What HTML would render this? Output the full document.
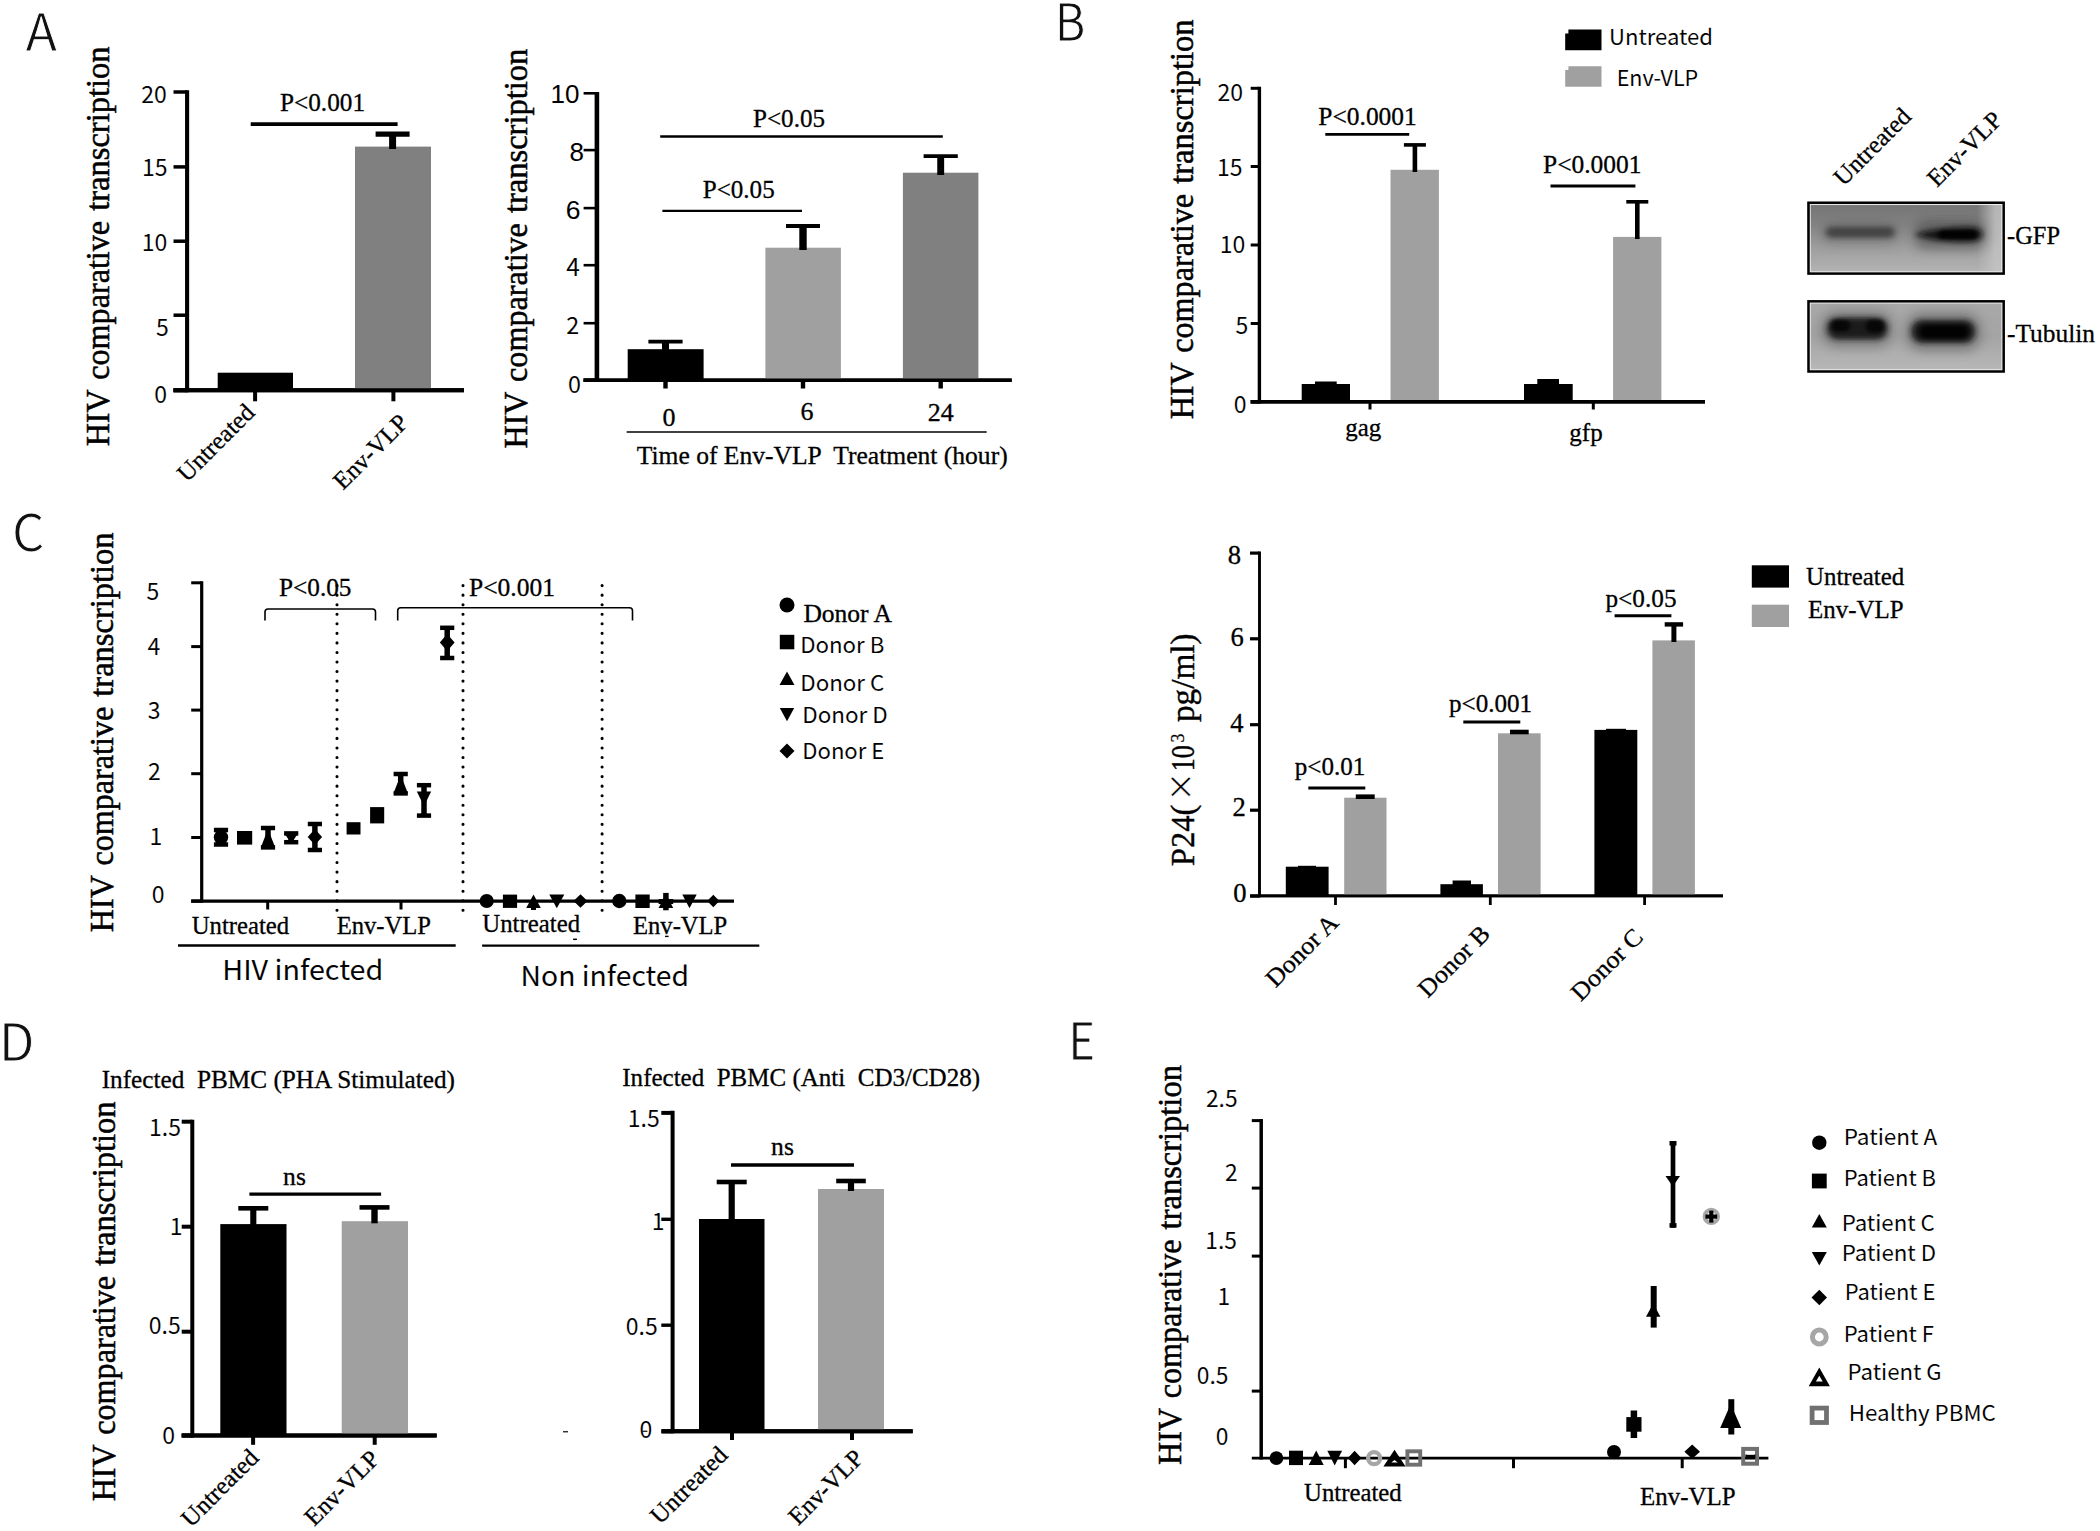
<!DOCTYPE html>
<html lang="en"><head><meta charset="utf-8"><title>Figure</title>
<style>html,body{margin:0;padding:0;background:#fff}svg{display:block}text{white-space:pre}</style></head>
<body>
<svg width="2100" height="1531" viewBox="0 0 2100 1531">
<defs>
<filter id="b3" x="-30%" y="-80%" width="160%" height="260%"><feGaussianBlur stdDeviation="3 2.4"/></filter>
<filter id="b2" x="-30%" y="-80%" width="160%" height="260%"><feGaussianBlur stdDeviation="2.2 1.6"/></filter>
<filter id="b5" x="-40%" y="-100%" width="180%" height="300%"><feGaussianBlur stdDeviation="6 5"/></filter>
<linearGradient id="g1" x1="0" y1="0" x2="0" y2="1"><stop offset="0" stop-color="#727272"/><stop offset="0.3" stop-color="#828282"/><stop offset="0.6" stop-color="#9c9c9c"/><stop offset="1" stop-color="#b6b6b6"/></linearGradient>
<linearGradient id="g2" x1="0" y1="0" x2="0" y2="1"><stop offset="0" stop-color="#a9a9a9"/><stop offset="0.5" stop-color="#a4a4a4"/><stop offset="1" stop-color="#b9b9b9"/></linearGradient>
<linearGradient id="gc" x1="0" y1="0" x2="1" y2="0"><stop offset="0" stop-color="#c4c4c4" stop-opacity="0"/><stop offset="0.86" stop-color="#c4c4c4" stop-opacity="0"/><stop offset="0.95" stop-color="#c4c4c4" stop-opacity="0.8"/><stop offset="1" stop-color="#c4c4c4" stop-opacity="0.85"/></linearGradient>
<clipPath id="c1"><rect x="1809" y="203" width="194.5" height="70.5"/></clipPath>
<clipPath id="c2"><rect x="1809" y="301.5" width="194.5" height="70"/></clipPath>
</defs>
<rect width="2100" height="1531" fill="#fff"/>
<text x="25.6" y="51.2" font-size="52" font-family='"Noto Sans CJK SC", "Liberation Sans", "DejaVu Sans", sans-serif' fill="#111" stroke="#fff" stroke-width="0.9">A</text>
<text x="1054.8" y="41.4" font-size="52" font-family='"Noto Sans CJK SC", "Liberation Sans", "DejaVu Sans", sans-serif' fill="#111" textLength="30.6" lengthAdjust="spacingAndGlyphs" stroke="#fff" stroke-width="0.9">B</text>
<text x="12.0" y="551.4" font-size="51" font-family='"Noto Sans CJK SC", "Liberation Sans", "DejaVu Sans", sans-serif' fill="#111" stroke="#fff" stroke-width="0.9">C</text>
<text x="-1.3" y="1060.6" font-size="52" font-family='"Noto Sans CJK SC", "Liberation Sans", "DejaVu Sans", sans-serif' fill="#111" stroke="#fff" stroke-width="0.9">D</text>
<text x="1068.2" y="1059.8" font-size="52" font-family='"Noto Sans CJK SC", "Liberation Sans", "DejaVu Sans", sans-serif' fill="#111" textLength="27.0" lengthAdjust="spacingAndGlyphs" stroke="#fff" stroke-width="0.9">E</text>
<line x1="187.1" y1="90.3" x2="187.1" y2="392.3" stroke="#000" stroke-width="4.1" stroke-linecap="butt" />
<line x1="173.5" y1="390.3" x2="464.0" y2="390.3" stroke="#000" stroke-width="4" stroke-linecap="butt" />
<line x1="173.5" y1="92.0" x2="187.1" y2="92.0" stroke="#000" stroke-width="3.5" stroke-linecap="butt" />
<text x="166.8" y="102.9" font-size="23" font-family='"Noto Sans CJK SC", "Liberation Sans", "DejaVu Sans", sans-serif' fill="#000" text-anchor="end" stroke="#fff" stroke-width="0.08" >20</text>
<line x1="173.5" y1="166.9" x2="187.1" y2="166.9" stroke="#000" stroke-width="3.5" stroke-linecap="butt" />
<text x="167.6" y="175.8" font-size="23" font-family='"Noto Sans CJK SC", "Liberation Sans", "DejaVu Sans", sans-serif' fill="#000" text-anchor="end" stroke="#fff" stroke-width="0.08" >15</text>
<line x1="173.5" y1="241.2" x2="187.1" y2="241.2" stroke="#000" stroke-width="3.5" stroke-linecap="butt" />
<text x="167.4" y="251.2" font-size="23" font-family='"Noto Sans CJK SC", "Liberation Sans", "DejaVu Sans", sans-serif' fill="#000" text-anchor="end" stroke="#fff" stroke-width="0.08" >10</text>
<line x1="173.5" y1="315.2" x2="187.1" y2="315.2" stroke="#000" stroke-width="3.5" stroke-linecap="butt" />
<text x="168.7" y="335.7" font-size="23" font-family='"Noto Sans CJK SC", "Liberation Sans", "DejaVu Sans", sans-serif' fill="#000" text-anchor="end" stroke="#fff" stroke-width="0.08" >5</text>
<line x1="173.5" y1="390.3" x2="187.1" y2="390.3" stroke="#000" stroke-width="4" stroke-linecap="butt" />
<text x="167.0" y="403.0" font-size="23" font-family='"Noto Sans CJK SC", "Liberation Sans", "DejaVu Sans", sans-serif' fill="#000" text-anchor="end" stroke="#fff" stroke-width="0.08" >0</text>
<rect x="217.7" y="372.7" width="75.3" height="17.6" fill="#000" />
<rect x="355.0" y="146.6" width="76.0" height="243.7" fill="#808080" />
<line x1="173.5" y1="390.3" x2="464.0" y2="390.3" stroke="#000" stroke-width="4" stroke-linecap="butt" />
<line x1="392.6" y1="134.1" x2="392.6" y2="149.0" stroke="#000" stroke-width="7" stroke-linecap="butt" />
<line x1="375.6" y1="134.1" x2="409.6" y2="134.1" stroke="#000" stroke-width="5.2" stroke-linecap="butt" />
<line x1="250.7" y1="124.1" x2="397.6" y2="124.1" stroke="#000" stroke-width="3.6" stroke-linecap="butt" />
<text x="280.0" y="110.8" font-size="25.3" font-family='"Liberation Serif", "DejaVu Serif", serif' fill="#000" textLength="85.0" lengthAdjust="spacingAndGlyphs" stroke="#000" stroke-width="0.30" >P&lt;0.001</text>
<line x1="255.1" y1="390.3" x2="255.1" y2="401.3" stroke="#000" stroke-width="4" stroke-linecap="butt" />
<line x1="393.4" y1="390.3" x2="393.4" y2="401.3" stroke="#000" stroke-width="4" stroke-linecap="butt" />
<text x="256.0" y="414.0" font-size="24.7" font-family='"Liberation Serif", "DejaVu Serif", serif' fill="#000" text-anchor="end" textLength="97.5" lengthAdjust="spacingAndGlyphs" transform="rotate(-45 256.0 414.0)" stroke="#000" stroke-width="0.30" >Untreated</text>
<text x="409.8" y="424.2" font-size="24.7" font-family='"Liberation Serif", "DejaVu Serif", serif' fill="#000" text-anchor="end" textLength="94.3" lengthAdjust="spacingAndGlyphs" transform="rotate(-45 409.8 424.2)" stroke="#000" stroke-width="0.30" >Env-VLP</text>
<g transform="translate(108.9 446.3) rotate(-90)" font-size="33" font-family='"Liberation Serif", "DejaVu Serif", serif' fill="#000" stroke="#000" stroke-width="0.5">
<text x="0.0" y="0" textLength="57.0" lengthAdjust="spacingAndGlyphs">HIV</text>
<text x="66.6" y="0" textLength="158.8" lengthAdjust="spacingAndGlyphs">comparative</text>
<text x="235.5" y="0" textLength="164.3" lengthAdjust="spacingAndGlyphs">transcription</text>
</g>
<line x1="596.9" y1="91.9" x2="596.9" y2="382.0" stroke="#000" stroke-width="4.6" stroke-linecap="butt" />
<line x1="583.6" y1="380.2" x2="1011.7" y2="380.2" stroke="#000" stroke-width="3.6" stroke-linecap="butt" />
<line x1="583.6" y1="93.3" x2="596.9" y2="93.3" stroke="#000" stroke-width="2.6" stroke-linecap="butt" />
<text x="579.5" y="103.3" font-size="26" font-family='"Liberation Sans", "DejaVu Sans", sans-serif' fill="#000" text-anchor="end" >10</text>
<line x1="583.6" y1="150.1" x2="596.9" y2="150.1" stroke="#000" stroke-width="2.6" stroke-linecap="butt" />
<text x="584.0" y="161.2" font-size="26" font-family='"Liberation Sans", "DejaVu Sans", sans-serif' fill="#000" text-anchor="end" >8</text>
<line x1="583.6" y1="208.1" x2="596.9" y2="208.1" stroke="#000" stroke-width="2.6" stroke-linecap="butt" />
<text x="580.6" y="219.2" font-size="26.5" font-family='"Liberation Sans", "DejaVu Sans", sans-serif' fill="#000" text-anchor="end" >6</text>
<line x1="583.6" y1="265.2" x2="596.9" y2="265.2" stroke="#000" stroke-width="2.6" stroke-linecap="butt" />
<text x="579.8" y="276.0" font-size="24.5" font-family='"Noto Sans CJK SC", "Liberation Sans", "DejaVu Sans", sans-serif' fill="#000" text-anchor="end" stroke="#fff" stroke-width="0.08" >4</text>
<line x1="583.6" y1="323.2" x2="596.9" y2="323.2" stroke="#000" stroke-width="2.6" stroke-linecap="butt" />
<text x="579.2" y="333.8" font-size="23.3" font-family='"Noto Sans CJK SC", "Liberation Sans", "DejaVu Sans", sans-serif' fill="#000" text-anchor="end" stroke="#fff" stroke-width="0.08" >2</text>
<line x1="583.6" y1="380.2" x2="596.9" y2="380.2" stroke="#000" stroke-width="3.6" stroke-linecap="butt" />
<text x="581.0" y="392.8" font-size="23.3" font-family='"Noto Sans CJK SC", "Liberation Sans", "DejaVu Sans", sans-serif' fill="#000" text-anchor="end" stroke="#fff" stroke-width="0.08" >0</text>
<rect x="627.7" y="349.2" width="75.9" height="31.0" fill="#000" />
<rect x="765.4" y="247.7" width="75.5" height="132.5" fill="#a0a0a0" />
<rect x="902.9" y="172.7" width="75.5" height="207.5" fill="#808080" />
<line x1="583.6" y1="380.2" x2="1011.7" y2="380.2" stroke="#000" stroke-width="3.6" stroke-linecap="butt" />
<line x1="665.5" y1="341.7" x2="665.5" y2="352.0" stroke="#000" stroke-width="7" stroke-linecap="butt" />
<line x1="648.4" y1="341.7" x2="682.6" y2="341.7" stroke="#000" stroke-width="3.8" stroke-linecap="butt" />
<line x1="803.0" y1="225.9" x2="803.0" y2="250.0" stroke="#000" stroke-width="7.4" stroke-linecap="butt" />
<line x1="786.0" y1="225.9" x2="820.0" y2="225.9" stroke="#000" stroke-width="4" stroke-linecap="butt" />
<line x1="940.7" y1="156.1" x2="940.7" y2="175.0" stroke="#000" stroke-width="6.9" stroke-linecap="butt" />
<line x1="923.6" y1="156.1" x2="957.8" y2="156.1" stroke="#000" stroke-width="3.8" stroke-linecap="butt" />
<line x1="660.2" y1="136.5" x2="942.8" y2="136.5" stroke="#000" stroke-width="2.4" stroke-linecap="butt" />
<line x1="662.4" y1="210.9" x2="802.0" y2="210.9" stroke="#000" stroke-width="2.4" stroke-linecap="butt" />
<text x="753.0" y="126.7" font-size="25.3" font-family='"Liberation Serif", "DejaVu Serif", serif' fill="#000" textLength="72.0" lengthAdjust="spacingAndGlyphs" stroke="#000" stroke-width="0.30" >P&lt;0.05</text>
<text x="702.7" y="198.0" font-size="25.3" font-family='"Liberation Serif", "DejaVu Serif", serif' fill="#000" textLength="72.0" lengthAdjust="spacingAndGlyphs" stroke="#000" stroke-width="0.30" >P&lt;0.05</text>
<line x1="665.5" y1="380.2" x2="665.5" y2="388.5" stroke="#000" stroke-width="4.4" stroke-linecap="butt" />
<line x1="803.0" y1="380.2" x2="803.0" y2="388.5" stroke="#000" stroke-width="4.4" stroke-linecap="butt" />
<line x1="940.7" y1="380.2" x2="940.7" y2="388.5" stroke="#000" stroke-width="4.4" stroke-linecap="butt" />
<text x="669.0" y="426.3" font-size="26" font-family='"Liberation Serif", "DejaVu Serif", serif' fill="#000" text-anchor="middle" stroke="#000" stroke-width="0.31" >0</text>
<text x="807.0" y="420.0" font-size="26" font-family='"Liberation Serif", "DejaVu Serif", serif' fill="#000" text-anchor="middle" stroke="#000" stroke-width="0.31" >6</text>
<text x="940.7" y="421.0" font-size="26" font-family='"Liberation Serif", "DejaVu Serif", serif' fill="#000" text-anchor="middle" stroke="#000" stroke-width="0.31" >24</text>
<line x1="626.7" y1="432.0" x2="986.7" y2="432.0" stroke="#000" stroke-width="1.6" stroke-linecap="butt" />
<text x="636.7" y="463.7" font-size="25.7" font-family='"Liberation Serif", "DejaVu Serif", serif' fill="#000" textLength="371.0" lengthAdjust="spacingAndGlyphs" stroke="#000" stroke-width="0.31" xml:space="preserve">Time of Env-VLP  Treatment (hour)</text>
<g transform="translate(527.1 448.5) rotate(-90)" font-size="33" font-family='"Liberation Serif", "DejaVu Serif", serif' fill="#000" stroke="#000" stroke-width="0.5">
<text x="0.0" y="0" textLength="57.0" lengthAdjust="spacingAndGlyphs">HIV</text>
<text x="66.6" y="0" textLength="158.8" lengthAdjust="spacingAndGlyphs">comparative</text>
<text x="235.5" y="0" textLength="164.3" lengthAdjust="spacingAndGlyphs">transcription</text>
</g>
<line x1="1259.4" y1="86.8" x2="1259.4" y2="403.5" stroke="#000" stroke-width="3.4" stroke-linecap="butt" />
<line x1="1250.7" y1="401.8" x2="1705.0" y2="401.8" stroke="#000" stroke-width="3.5" stroke-linecap="butt" />
<line x1="1250.7" y1="88.3" x2="1259.4" y2="88.3" stroke="#000" stroke-width="3" stroke-linecap="butt" />
<text x="1243.0" y="100.9" font-size="23" font-family='"Noto Sans CJK SC", "Liberation Sans", "DejaVu Sans", sans-serif' fill="#000" text-anchor="end" stroke="#fff" stroke-width="0.08" >20</text>
<line x1="1250.7" y1="166.5" x2="1259.4" y2="166.5" stroke="#000" stroke-width="3" stroke-linecap="butt" />
<text x="1242.5" y="176.4" font-size="23" font-family='"Noto Sans CJK SC", "Liberation Sans", "DejaVu Sans", sans-serif' fill="#000" text-anchor="end" stroke="#fff" stroke-width="0.08" >15</text>
<line x1="1250.7" y1="245.0" x2="1259.4" y2="245.0" stroke="#000" stroke-width="3" stroke-linecap="butt" />
<text x="1245.3" y="253.0" font-size="23" font-family='"Noto Sans CJK SC", "Liberation Sans", "DejaVu Sans", sans-serif' fill="#000" text-anchor="end" stroke="#fff" stroke-width="0.08" >10</text>
<line x1="1250.7" y1="323.5" x2="1259.4" y2="323.5" stroke="#000" stroke-width="3" stroke-linecap="butt" />
<text x="1248.2" y="334.2" font-size="23" font-family='"Noto Sans CJK SC", "Liberation Sans", "DejaVu Sans", sans-serif' fill="#000" text-anchor="end" stroke="#fff" stroke-width="0.08" >5</text>
<line x1="1250.7" y1="401.8" x2="1259.4" y2="401.8" stroke="#000" stroke-width="3.5" stroke-linecap="butt" />
<text x="1246.5" y="413.3" font-size="23" font-family='"Noto Sans CJK SC", "Liberation Sans", "DejaVu Sans", sans-serif' fill="#000" text-anchor="end" stroke="#fff" stroke-width="0.08" >0</text>
<rect x="1301.7" y="384.0" width="48.3" height="17.8" fill="#000" />
<rect x="1315.0" y="381.5" width="21.7" height="3.5" fill="#000" />
<rect x="1390.5" y="169.8" width="48.4" height="232.0" fill="#a0a0a0" />
<rect x="1524.0" y="384.0" width="48.7" height="17.8" fill="#000" />
<rect x="1537.3" y="379.0" width="21.7" height="6.0" fill="#000" />
<rect x="1613.1" y="236.9" width="48.3" height="164.9" fill="#a0a0a0" />
<line x1="1250.7" y1="401.8" x2="1705.0" y2="401.8" stroke="#000" stroke-width="3.5" stroke-linecap="butt" />
<line x1="1414.9" y1="144.9" x2="1414.9" y2="172.0" stroke="#000" stroke-width="4.6" stroke-linecap="butt" />
<line x1="1403.9" y1="144.9" x2="1425.9" y2="144.9" stroke="#000" stroke-width="3.6" stroke-linecap="butt" />
<line x1="1637.3" y1="201.8" x2="1637.3" y2="239.0" stroke="#000" stroke-width="4.6" stroke-linecap="butt" />
<line x1="1626.3" y1="201.8" x2="1648.3" y2="201.8" stroke="#000" stroke-width="3.6" stroke-linecap="butt" />
<line x1="1325.3" y1="134.4" x2="1409.2" y2="134.4" stroke="#000" stroke-width="2.8" stroke-linecap="butt" />
<line x1="1550.5" y1="186.0" x2="1635.4" y2="186.0" stroke="#000" stroke-width="2.8" stroke-linecap="butt" />
<text x="1318.3" y="124.5" font-size="25.6" font-family='"Liberation Serif", "DejaVu Serif", serif' fill="#000" textLength="98.5" lengthAdjust="spacingAndGlyphs" stroke="#000" stroke-width="0.31" >P&lt;0.0001</text>
<text x="1543.0" y="173.4" font-size="25.6" font-family='"Liberation Serif", "DejaVu Serif", serif' fill="#000" textLength="98.5" lengthAdjust="spacingAndGlyphs" stroke="#000" stroke-width="0.31" >P&lt;0.0001</text>
<line x1="1370.0" y1="401.8" x2="1370.0" y2="409.5" stroke="#000" stroke-width="3" stroke-linecap="butt" />
<line x1="1593.3" y1="401.8" x2="1593.3" y2="409.5" stroke="#000" stroke-width="3" stroke-linecap="butt" />
<text x="1363.3" y="436.0" font-size="25" font-family='"Liberation Serif", "DejaVu Serif", serif' fill="#000" text-anchor="middle" stroke="#000" stroke-width="0.30" >gag</text>
<text x="1586.0" y="440.7" font-size="25" font-family='"Liberation Serif", "DejaVu Serif", serif' fill="#000" text-anchor="middle" stroke="#000" stroke-width="0.30" >gfp</text>
<path d="M1568.4,29.6 H1601.5 V50.2 H1565.2 V33.4 H1568.4 Z" fill="#000"/>
<path d="M1568.4,66.3 H1601.5 V86.7 H1565.2 V69.9 H1568.4 Z" fill="#a0a0a0"/>
<text x="1609.0" y="45.0" font-size="22" font-family='"Noto Sans CJK SC", "Liberation Sans", "DejaVu Sans", sans-serif' fill="#000" textLength="104.0" lengthAdjust="spacingAndGlyphs" stroke="#fff" stroke-width="0.08" >Untreated</text>
<text x="1616.7" y="86.0" font-size="22" font-family='"Noto Sans CJK SC", "Liberation Sans", "DejaVu Sans", sans-serif' fill="#000" textLength="81.5" lengthAdjust="spacingAndGlyphs" stroke="#fff" stroke-width="0.08" >Env-VLP</text>
<g transform="translate(1192.8 419.3) rotate(-90)" font-size="33" font-family='"Liberation Serif", "DejaVu Serif", serif' fill="#000" stroke="#000" stroke-width="0.5">
<text x="0.0" y="0" textLength="57.0" lengthAdjust="spacingAndGlyphs">HIV</text>
<text x="66.6" y="0" textLength="158.8" lengthAdjust="spacingAndGlyphs">comparative</text>
<text x="235.5" y="0" textLength="164.3" lengthAdjust="spacingAndGlyphs">transcription</text>
</g>
<rect x="1807.3" y="201.6" width="197.6" height="73.2" fill="url(#g1)" />
<rect x="1807.3" y="201.6" width="197.6" height="73.2" fill="url(#gc)" />
<g clip-path="url(#c1)">
<rect x="1822" y="221" width="76.0" height="24.0" rx="10" ry="10" fill="#555" opacity="0.3" filter="url(#b5)"/>
<rect x="1914" y="220" width="72.0" height="30.0" rx="12" ry="12" fill="#333" opacity="0.42" filter="url(#b5)"/>
<rect x="1826" y="226.8" width="68.5" height="11.0" rx="5" ry="5" fill="#363636" opacity="0.78" filter="url(#b3)"/>
<path d="M1915,234.5 C1925,230.5 1945,227.5 1968,227 C1979,227 1982,230.5 1982,234.5 C1982,239 1978,242 1966,242 C1945,242 1925,239.5 1915,234.5 Z" fill="#0c0c0c" opacity="0.92" filter="url(#b3)"/>
<rect x="1938" y="230.3" width="39.0" height="8.5" rx="4.2" ry="4.2" fill="#000" opacity="0.9" filter="url(#b2)"/>
</g>
<rect x="1810.2" y="204.5" width="191.8" height="67.4" fill="none" stroke="#f4f4f4" stroke-width="1.1" opacity="0.9"/>
<rect x="1808.5" y="202.8" width="195.2" height="70.8" fill="none" stroke="#000" stroke-width="2.4"/>
<rect x="1807.3" y="300.1" width="197.6" height="72.6" fill="url(#g2)" />
<g clip-path="url(#c2)">
<rect x="1821" y="310" width="72.0" height="38.0" rx="16" ry="16" fill="#444" opacity="0.36" filter="url(#b5)"/>
<rect x="1906" y="312" width="75.0" height="40.0" rx="16" ry="16" fill="#444" opacity="0.4" filter="url(#b5)"/>
<rect x="1827" y="317.5" width="60.5" height="22.0" rx="10.5" ry="10.5" fill="#1d1d1d" opacity="1" filter="url(#b3)"/>
<rect x="1831" y="320" width="19.0" height="11.5" rx="5" ry="5" fill="#000" opacity="0.75" filter="url(#b2)"/>
<rect x="1866" y="320" width="18.0" height="12.5" rx="5" ry="5" fill="#000" opacity="0.75" filter="url(#b2)"/>
<rect x="1911.5" y="320" width="63.5" height="23.0" rx="11" ry="11" fill="#141414" opacity="1" filter="url(#b3)"/>
<rect x="1920" y="325.5" width="48.0" height="12.5" rx="6" ry="6" fill="#000" opacity="0.9" filter="url(#b2)"/>
</g>
<rect x="1810.2" y="303.0" width="191.8" height="66.8" fill="none" stroke="#f4f4f4" stroke-width="1.1" opacity="0.9"/>
<rect x="1808.5" y="301.3" width="195.2" height="70.2" fill="none" stroke="#000" stroke-width="2.4"/>
<text x="2007.0" y="244.0" font-size="24.5" font-family='"Liberation Serif", "DejaVu Serif", serif' fill="#000" textLength="53.0" lengthAdjust="spacingAndGlyphs" stroke="#000" stroke-width="0.29" >-GFP</text>
<text x="2007.0" y="341.7" font-size="24.5" font-family='"Liberation Serif", "DejaVu Serif", serif' fill="#000" textLength="88.0" lengthAdjust="spacingAndGlyphs" stroke="#000" stroke-width="0.29" >-Tubulin</text>
<text x="1843.5" y="187.0" font-size="24.7" font-family='"Liberation Serif", "DejaVu Serif", serif' fill="#000" textLength="97.5" lengthAdjust="spacingAndGlyphs" transform="rotate(-45 1843.5 187.0)" stroke="#000" stroke-width="0.30" >Untreated</text>
<text x="1937.0" y="188.0" font-size="24.7" font-family='"Liberation Serif", "DejaVu Serif", serif' fill="#000" textLength="94.3" lengthAdjust="spacingAndGlyphs" transform="rotate(-45 1937.0 188.0)" stroke="#000" stroke-width="0.30" >Env-VLP</text>
<line x1="201.7" y1="581.3" x2="201.7" y2="902.7" stroke="#000" stroke-width="3.2" stroke-linecap="butt" />
<line x1="191.2" y1="901.1" x2="734.0" y2="901.1" stroke="#000" stroke-width="3.3" stroke-linecap="butt" />
<line x1="191.2" y1="582.8" x2="201.7" y2="582.8" stroke="#000" stroke-width="3" stroke-linecap="butt" />
<text x="153.0" y="599.7" font-size="23" font-family='"Noto Sans CJK SC", "Liberation Sans", "DejaVu Sans", sans-serif' fill="#000" text-anchor="middle" stroke="#fff" stroke-width="0.08" >5</text>
<line x1="191.2" y1="646.6" x2="201.7" y2="646.6" stroke="#000" stroke-width="3" stroke-linecap="butt" />
<text x="153.9" y="655.3" font-size="23" font-family='"Noto Sans CJK SC", "Liberation Sans", "DejaVu Sans", sans-serif' fill="#000" text-anchor="middle" stroke="#fff" stroke-width="0.08" >4</text>
<line x1="191.2" y1="710.1" x2="201.7" y2="710.1" stroke="#000" stroke-width="3" stroke-linecap="butt" />
<text x="154.2" y="718.6" font-size="23" font-family='"Noto Sans CJK SC", "Liberation Sans", "DejaVu Sans", sans-serif' fill="#000" text-anchor="middle" stroke="#fff" stroke-width="0.08" >3</text>
<line x1="191.2" y1="773.7" x2="201.7" y2="773.7" stroke="#000" stroke-width="3" stroke-linecap="butt" />
<text x="154.4" y="779.9" font-size="23" font-family='"Noto Sans CJK SC", "Liberation Sans", "DejaVu Sans", sans-serif' fill="#000" text-anchor="middle" stroke="#fff" stroke-width="0.08" >2</text>
<line x1="191.2" y1="837.5" x2="201.7" y2="837.5" stroke="#000" stroke-width="3" stroke-linecap="butt" />
<text x="155.9" y="845.0" font-size="23" font-family='"Noto Sans CJK SC", "Liberation Sans", "DejaVu Sans", sans-serif' fill="#000" text-anchor="middle" stroke="#fff" stroke-width="0.08" >1</text>
<line x1="191.2" y1="901.1" x2="201.7" y2="901.1" stroke="#000" stroke-width="3.3" stroke-linecap="butt" />
<text x="158.1" y="903.1" font-size="23" font-family='"Noto Sans CJK SC", "Liberation Sans", "DejaVu Sans", sans-serif' fill="#000" text-anchor="middle" stroke="#fff" stroke-width="0.08" >0</text>
<line x1="267.7" y1="901.1" x2="267.7" y2="909.5" stroke="#000" stroke-width="3" stroke-linecap="butt" />
<line x1="401.0" y1="901.1" x2="401.0" y2="909.5" stroke="#000" stroke-width="3" stroke-linecap="butt" />
<line x1="337" y1="585.6" x2="337" y2="910.4" stroke="#000" stroke-width="3.1" stroke-linecap="round" stroke-dasharray="0 9.55"/>
<line x1="463" y1="585.6" x2="463" y2="910.4" stroke="#000" stroke-width="3.1" stroke-linecap="round" stroke-dasharray="0 9.55"/>
<line x1="602.1" y1="585.6" x2="602.1" y2="910.4" stroke="#000" stroke-width="3.1" stroke-linecap="round" stroke-dasharray="0 9.55"/>
<path d="M265.0,620.5 V612.0 Q265.0,609.0 268.0,609.0 H372.5 Q375.5,609.0 375.5,612.0 V620.5" fill="none" stroke="#000" stroke-width="1.6"/>
<path d="M397.7,620.5 V610.7 Q397.7,607.7 400.7,607.7 H629.5 Q632.5,607.7 632.5,610.7 V620.5" fill="none" stroke="#000" stroke-width="1.6"/>
<text x="279.0" y="595.7" font-size="25.3" font-family='"Liberation Serif", "DejaVu Serif", serif' fill="#000" textLength="72.5" lengthAdjust="spacingAndGlyphs" stroke="#000" stroke-width="0.30" >P&lt;0.05</text>
<text x="469.0" y="595.7" font-size="25.3" font-family='"Liberation Serif", "DejaVu Serif", serif' fill="#000" textLength="86.0" lengthAdjust="spacingAndGlyphs" stroke="#000" stroke-width="0.30" >P&lt;0.001</text>
<line x1="221.0" y1="830.0" x2="221.0" y2="844.5" stroke="#000" stroke-width="5.5" stroke-linecap="butt" />
<line x1="213.9" y1="830.0" x2="228.1" y2="830.0" stroke="#000" stroke-width="4.5" stroke-linecap="butt" />
<line x1="213.9" y1="844.5" x2="228.1" y2="844.5" stroke="#000" stroke-width="4.5" stroke-linecap="butt" />
<circle cx="221.0" cy="837.3" r="7.2" fill="#000" />
<rect x="237.0" y="831.0" width="15.2" height="13.6" fill="#000" />
<line x1="268.0" y1="828.0" x2="268.0" y2="847.4" stroke="#000" stroke-width="5.5" stroke-linecap="butt" />
<line x1="260.9" y1="828.0" x2="275.1" y2="828.0" stroke="#000" stroke-width="4.5" stroke-linecap="butt" />
<line x1="260.9" y1="847.4" x2="275.1" y2="847.4" stroke="#000" stroke-width="4.5" stroke-linecap="butt" />
<polygon points="268.0,829.0 275.2,847.5 260.8,847.5" fill="#000" />
<line x1="291.2" y1="833.4" x2="291.2" y2="842.2" stroke="#000" stroke-width="5.5" stroke-linecap="butt" />
<line x1="284.1" y1="833.4" x2="298.3" y2="833.4" stroke="#000" stroke-width="4.5" stroke-linecap="butt" />
<line x1="284.1" y1="842.2" x2="298.3" y2="842.2" stroke="#000" stroke-width="4.5" stroke-linecap="butt" />
<polygon points="291.2,843.5 298.3,833.0 284.1,833.0" fill="#000" />
<line x1="314.9" y1="824.0" x2="314.9" y2="850.0" stroke="#000" stroke-width="5.5" stroke-linecap="butt" />
<line x1="307.8" y1="824.0" x2="322.0" y2="824.0" stroke="#000" stroke-width="4.5" stroke-linecap="butt" />
<line x1="307.8" y1="850.0" x2="322.0" y2="850.0" stroke="#000" stroke-width="4.5" stroke-linecap="butt" />
<polygon points="314.9,829.0 322.1,837.0 314.9,845.0 307.7,837.0" fill="#000" />
<rect x="346.6" y="822.2" width="13.9" height="12.3" fill="#000" />
<rect x="370.1" y="807.1" width="14.1" height="16.3" fill="#000" />
<line x1="400.7" y1="774.0" x2="400.7" y2="793.4" stroke="#000" stroke-width="5.5" stroke-linecap="butt" />
<line x1="393.6" y1="774.0" x2="407.8" y2="774.0" stroke="#000" stroke-width="4.5" stroke-linecap="butt" />
<line x1="393.6" y1="793.4" x2="407.8" y2="793.4" stroke="#000" stroke-width="4.5" stroke-linecap="butt" />
<polygon points="400.7,775.0 408.0,793.5 393.4,793.5" fill="#000" />
<line x1="424.0" y1="785.2" x2="424.0" y2="815.6" stroke="#000" stroke-width="5.5" stroke-linecap="butt" />
<line x1="416.9" y1="785.2" x2="431.1" y2="785.2" stroke="#000" stroke-width="4.5" stroke-linecap="butt" />
<line x1="416.9" y1="815.6" x2="431.1" y2="815.6" stroke="#000" stroke-width="4.5" stroke-linecap="butt" />
<polygon points="424.0,806.0 431.2,791.5 416.8,791.5" fill="#000" />
<line x1="447.2" y1="627.8" x2="447.2" y2="658.0" stroke="#000" stroke-width="5.5" stroke-linecap="butt" />
<line x1="440.1" y1="627.8" x2="454.3" y2="627.8" stroke="#000" stroke-width="4.5" stroke-linecap="butt" />
<line x1="440.1" y1="658.0" x2="454.3" y2="658.0" stroke="#000" stroke-width="4.5" stroke-linecap="butt" />
<polygon points="447.2,634.0 454.6,642.5 447.2,651.0 439.8,642.5" fill="#000" />
<circle cx="486.7" cy="901.0" r="7.1" fill="#000" />
<rect x="502.9" y="894.6" width="14.2" height="13.3" fill="#000" />
<line x1="533.5" y1="900.0" x2="533.5" y2="910.0" stroke="#000" stroke-width="5" stroke-linecap="butt" />
<polygon points="533.5,894.6 540.8,907.9 526.2,907.9" fill="#000" />
<polygon points="556.8,908.2 564.3,894.4 549.3,894.4" fill="#000" />
<polygon points="580.5,894.2 587.5,901.0 580.5,907.8 573.5,901.0" fill="#000" />
<circle cx="619.3" cy="901.0" r="7.2" fill="#000" />
<rect x="635.4" y="894.5" width="14.3" height="13.5" fill="#000" />
<line x1="665.9" y1="892.9" x2="665.9" y2="910.3" stroke="#000" stroke-width="5.5" stroke-linecap="butt" />
<line x1="658.6" y1="901.5" x2="673.2" y2="901.5" stroke="#000" stroke-width="5" stroke-linecap="butt" />
<polygon points="665.9,893.5 673.2,908.0 658.6,908.0" fill="#000" />
<polygon points="689.5,908.2 696.7,894.4 682.3,894.4" fill="#000" />
<polygon points="713.3,894.7 719.4,901.0 713.3,907.3 707.2,901.0" fill="#000" />
<text x="191.7" y="934.0" font-size="24.8" font-family='"Liberation Serif", "DejaVu Serif", serif' fill="#000" textLength="97.5" lengthAdjust="spacingAndGlyphs" stroke="#000" stroke-width="0.30" >Untreated</text>
<text x="336.7" y="934.0" font-size="24.8" font-family='"Liberation Serif", "DejaVu Serif", serif' fill="#000" textLength="94.3" lengthAdjust="spacingAndGlyphs" stroke="#000" stroke-width="0.30" >Env-VLP</text>
<text x="482.3" y="932.1" font-size="24.8" font-family='"Liberation Serif", "DejaVu Serif", serif' fill="#000" textLength="97.8" lengthAdjust="spacingAndGlyphs" stroke="#000" stroke-width="0.30" >Untreated</text>
<text x="633.0" y="933.6" font-size="24.8" font-family='"Liberation Serif", "DejaVu Serif", serif' fill="#000" textLength="94.3" lengthAdjust="spacingAndGlyphs" stroke="#000" stroke-width="0.30" >Env-VLP</text>
<line x1="573.1" y1="939.3" x2="576.9" y2="939.3" stroke="#000" stroke-width="1.5" stroke-linecap="butt" />
<line x1="665.0" y1="936.4" x2="668.6" y2="936.4" stroke="#000" stroke-width="1.4" stroke-linecap="butt" />
<line x1="178.0" y1="945.6" x2="455.7" y2="945.6" stroke="#000" stroke-width="2.5" stroke-linecap="butt" />
<line x1="482.1" y1="945.6" x2="759.3" y2="945.6" stroke="#000" stroke-width="2.4" stroke-linecap="butt" />
<text x="222.3" y="979.7" font-size="27.7" font-family='"Noto Sans CJK SC", "Liberation Sans", "DejaVu Sans", sans-serif' fill="#000" textLength="161.0" lengthAdjust="spacingAndGlyphs" stroke="#fff" stroke-width="0.08" >HIV infected</text>
<text x="520.6" y="986.2" font-size="27.4" font-family='"Noto Sans CJK SC", "Liberation Sans", "DejaVu Sans", sans-serif' fill="#000" textLength="168.4" lengthAdjust="spacingAndGlyphs" stroke="#fff" stroke-width="0.08" >Non infected</text>
<g transform="translate(112.8 932.2) rotate(-90)" font-size="33" font-family='"Liberation Serif", "DejaVu Serif", serif' fill="#000" stroke="#000" stroke-width="0.5">
<text x="0.0" y="0" textLength="57.0" lengthAdjust="spacingAndGlyphs">HIV</text>
<text x="66.6" y="0" textLength="158.8" lengthAdjust="spacingAndGlyphs">comparative</text>
<text x="235.5" y="0" textLength="164.3" lengthAdjust="spacingAndGlyphs">transcription</text>
</g>
<circle cx="787.0" cy="605.0" r="7.5" fill="#000" />
<text x="803.4" y="621.5" font-size="25.5" font-family='"Liberation Serif", "DejaVu Serif", serif' fill="#000" textLength="88.6" lengthAdjust="spacingAndGlyphs" stroke="#000" stroke-width="0.31" >Donor A</text>
<rect x="779.8" y="634.8" width="14.5" height="14.5" fill="#000" />
<text x="800.3" y="652.9" font-size="22" font-family='"Noto Sans CJK SC", "Liberation Sans", "DejaVu Sans", sans-serif' fill="#000" textLength="84.0" lengthAdjust="spacingAndGlyphs" stroke="#fff" stroke-width="0.08" >Donor B</text>
<polygon points="787.0,671.6 794.5,685.1 779.5,685.1" fill="#000" />
<text x="800.3" y="690.5" font-size="22" font-family='"Noto Sans CJK SC", "Liberation Sans", "DejaVu Sans", sans-serif' fill="#000" textLength="84.0" lengthAdjust="spacingAndGlyphs" stroke="#fff" stroke-width="0.08" >Donor C</text>
<polygon points="787.0,721.2 794.2,708.1 779.8,708.1" fill="#000" />
<text x="802.3" y="722.5" font-size="22" font-family='"Noto Sans CJK SC", "Liberation Sans", "DejaVu Sans", sans-serif' fill="#000" textLength="85.5" lengthAdjust="spacingAndGlyphs" stroke="#fff" stroke-width="0.08" >Donor D</text>
<polygon points="787.0,743.5 794.5,751.0 787.0,758.5 779.5,751.0" fill="#000" />
<text x="802.3" y="758.9" font-size="22" font-family='"Noto Sans CJK SC", "Liberation Sans", "DejaVu Sans", sans-serif' fill="#000" textLength="82.0" lengthAdjust="spacingAndGlyphs" stroke="#fff" stroke-width="0.08" >Donor E</text>
<line x1="1259.5" y1="551.5" x2="1259.5" y2="897.3" stroke="#000" stroke-width="2.9" stroke-linecap="butt" />
<line x1="1250.0" y1="895.9" x2="1723.0" y2="895.9" stroke="#000" stroke-width="2.9" stroke-linecap="butt" />
<line x1="1250.0" y1="553.1" x2="1259.5" y2="553.1" stroke="#000" stroke-width="3.2" stroke-linecap="butt" />
<text x="1241.0" y="564.4" font-size="26.6" font-family='"Liberation Serif", "DejaVu Serif", serif' fill="#000" text-anchor="end" stroke="#000" stroke-width="0.32" >8</text>
<line x1="1250.0" y1="638.8" x2="1259.5" y2="638.8" stroke="#000" stroke-width="3.2" stroke-linecap="butt" />
<text x="1243.9" y="646.4" font-size="26.6" font-family='"Liberation Serif", "DejaVu Serif", serif' fill="#000" text-anchor="end" stroke="#000" stroke-width="0.32" >6</text>
<line x1="1250.0" y1="724.7" x2="1259.5" y2="724.7" stroke="#000" stroke-width="3.2" stroke-linecap="butt" />
<text x="1243.6" y="731.9" font-size="26.6" font-family='"Liberation Serif", "DejaVu Serif", serif' fill="#000" text-anchor="end" stroke="#000" stroke-width="0.32" >4</text>
<line x1="1250.0" y1="810.2" x2="1259.5" y2="810.2" stroke="#000" stroke-width="3.2" stroke-linecap="butt" />
<text x="1245.8" y="815.5" font-size="26.6" font-family='"Liberation Serif", "DejaVu Serif", serif' fill="#000" text-anchor="end" stroke="#000" stroke-width="0.32" >2</text>
<line x1="1250.0" y1="896.2" x2="1259.5" y2="896.2" stroke="#000" stroke-width="2.9" stroke-linecap="butt" />
<text x="1246.6" y="902.4" font-size="26.6" font-family='"Liberation Serif", "DejaVu Serif", serif' fill="#000" text-anchor="end" stroke="#000" stroke-width="0.32" >0</text>
<rect x="1285.8" y="866.7" width="42.8" height="29.2" fill="#000" />
<rect x="1344.2" y="797.7" width="42.3" height="98.2" fill="#a0a0a0" />
<rect x="1440.4" y="884.2" width="42.5" height="11.7" fill="#000" />
<rect x="1452.6" y="880.5" width="18.4" height="4.5" fill="#000" />
<rect x="1498.0" y="733.3" width="42.6" height="162.6" fill="#a0a0a0" />
<rect x="1594.4" y="729.9" width="42.9" height="166.0" fill="#000" />
<rect x="1652.4" y="640.4" width="42.5" height="255.5" fill="#a0a0a0" />
<line x1="1250.0" y1="895.9" x2="1723.0" y2="895.9" stroke="#000" stroke-width="2.9" stroke-linecap="butt" />
<rect x="1298.0" y="865.8" width="18.0" height="1.7" fill="#000" />
<rect x="1606.0" y="728.8" width="20.0" height="1.7" fill="#000" />
<line x1="1355.8" y1="796.7" x2="1374.7" y2="796.7" stroke="#000" stroke-width="4.6" stroke-linecap="butt" />
<line x1="1510.0" y1="732.0" x2="1528.7" y2="732.0" stroke="#000" stroke-width="4.6" stroke-linecap="butt" />
<line x1="1673.9" y1="624.4" x2="1673.9" y2="642.0" stroke="#000" stroke-width="5" stroke-linecap="butt" />
<line x1="1664.7" y1="624.4" x2="1683.1" y2="624.4" stroke="#000" stroke-width="4.4" stroke-linecap="butt" />
<line x1="1308.3" y1="788.0" x2="1365.3" y2="788.0" stroke="#000" stroke-width="3" stroke-linecap="butt" />
<line x1="1463.3" y1="722.0" x2="1520.3" y2="722.0" stroke="#000" stroke-width="3" stroke-linecap="butt" />
<line x1="1614.6" y1="615.8" x2="1671.4" y2="615.8" stroke="#000" stroke-width="3" stroke-linecap="butt" />
<text x="1294.8" y="775.4" font-size="25.6" font-family='"Liberation Serif", "DejaVu Serif", serif' fill="#000" textLength="70.5" lengthAdjust="spacingAndGlyphs" stroke="#000" stroke-width="0.31" >p&lt;0.01</text>
<text x="1449.0" y="711.5" font-size="25.6" font-family='"Liberation Serif", "DejaVu Serif", serif' fill="#000" textLength="83.0" lengthAdjust="spacingAndGlyphs" stroke="#000" stroke-width="0.31" >p&lt;0.001</text>
<text x="1605.5" y="607.2" font-size="25.6" font-family='"Liberation Serif", "DejaVu Serif", serif' fill="#000" textLength="71.0" lengthAdjust="spacingAndGlyphs" stroke="#000" stroke-width="0.31" >p&lt;0.05</text>
<line x1="1335.5" y1="895.9" x2="1335.5" y2="905.0" stroke="#000" stroke-width="2.8" stroke-linecap="butt" />
<line x1="1490.3" y1="895.9" x2="1490.3" y2="905.0" stroke="#000" stroke-width="2.8" stroke-linecap="butt" />
<line x1="1644.6" y1="895.9" x2="1644.6" y2="905.0" stroke="#000" stroke-width="2.8" stroke-linecap="butt" />
<text x="1339.8" y="924.2" font-size="25" font-family='"Liberation Serif", "DejaVu Serif", serif' fill="#000" text-anchor="end" textLength="91.0" lengthAdjust="spacingAndGlyphs" transform="rotate(-45 1339.8 924.2)" stroke="#000" stroke-width="0.30" >Donor A</text>
<text x="1491.5" y="935.2" font-size="25" font-family='"Liberation Serif", "DejaVu Serif", serif' fill="#000" text-anchor="end" textLength="90.0" lengthAdjust="spacingAndGlyphs" transform="rotate(-45 1491.5 935.2)" stroke="#000" stroke-width="0.30" >Donor B</text>
<text x="1644.5" y="938.6" font-size="25" font-family='"Liberation Serif", "DejaVu Serif", serif' fill="#000" text-anchor="end" textLength="90.0" lengthAdjust="spacingAndGlyphs" transform="rotate(-45 1644.5 938.6)" stroke="#000" stroke-width="0.30" >Donor C</text>
<rect x="1751.8" y="565.3" width="37.2" height="22.3" fill="#000" />
<rect x="1751.8" y="604.7" width="37.2" height="22.3" fill="#a0a0a0" />
<text x="1806.0" y="584.8" font-size="24.8" font-family='"Liberation Serif", "DejaVu Serif", serif' fill="#000" textLength="98.2" lengthAdjust="spacingAndGlyphs" stroke="#000" stroke-width="0.30" >Untreated</text>
<text x="1808.0" y="617.6" font-size="24.8" font-family='"Liberation Serif", "DejaVu Serif", serif' fill="#000" textLength="95.5" lengthAdjust="spacingAndGlyphs" stroke="#000" stroke-width="0.30" >Env-VLP</text>
<g transform="translate(1194 866.2) rotate(-90)">
<text x="0.0" y="0.0" font-size="33.5" font-family='"Liberation Serif", "DejaVu Serif", serif' fill="#000" textLength="61.5" lengthAdjust="spacingAndGlyphs" stroke="#000" stroke-width="0.40" >P24(</text>
<text x="79.5" y="3.0" font-size="48" font-family='"Liberation Serif", "DejaVu Serif", serif' fill="#000" text-anchor="middle" stroke="#fff" stroke-width="0.5">×</text>
<text x="95.0" y="0.0" font-size="33.5" font-family='"Liberation Serif", "DejaVu Serif", serif' fill="#000" textLength="26.0" lengthAdjust="spacingAndGlyphs" stroke="#000" stroke-width="0.40" >10</text>
<text x="123.6" y="-10.5" font-size="19" font-family='"Liberation Serif", "DejaVu Serif", serif' fill="#000" textLength="9.0" lengthAdjust="spacingAndGlyphs" stroke="#000" stroke-width="0.23" >3</text>
<text x="144.2" y="0.0" font-size="33.5" font-family='"Liberation Serif", "DejaVu Serif", serif' fill="#000" textLength="88.6" lengthAdjust="spacingAndGlyphs" stroke="#000" stroke-width="0.40" >pg/ml)</text>
</g>
<line x1="192.3" y1="1119.7" x2="192.3" y2="1437.5" stroke="#000" stroke-width="4" stroke-linecap="butt" />
<line x1="181.7" y1="1435.5" x2="436.7" y2="1435.5" stroke="#000" stroke-width="4" stroke-linecap="butt" />
<line x1="181.7" y1="1121.7" x2="192.3" y2="1121.7" stroke="#000" stroke-width="4" stroke-linecap="butt" />
<text x="181.0" y="1135.5" font-size="23" font-family='"Noto Sans CJK SC", "Liberation Sans", "DejaVu Sans", sans-serif' fill="#000" text-anchor="end" stroke="#fff" stroke-width="0.08" >1.5</text>
<line x1="181.7" y1="1226.7" x2="192.3" y2="1226.7" stroke="#000" stroke-width="4" stroke-linecap="butt" />
<text x="182.6" y="1234.5" font-size="23" font-family='"Noto Sans CJK SC", "Liberation Sans", "DejaVu Sans", sans-serif' fill="#000" text-anchor="end" stroke="#fff" stroke-width="0.08" >1</text>
<line x1="181.7" y1="1331.7" x2="192.3" y2="1331.7" stroke="#000" stroke-width="4" stroke-linecap="butt" />
<text x="180.8" y="1333.5" font-size="23" font-family='"Noto Sans CJK SC", "Liberation Sans", "DejaVu Sans", sans-serif' fill="#000" text-anchor="end" stroke="#fff" stroke-width="0.08" >0.5</text>
<line x1="181.7" y1="1435.5" x2="192.3" y2="1435.5" stroke="#000" stroke-width="4" stroke-linecap="butt" />
<text x="175.0" y="1443.6" font-size="23" font-family='"Noto Sans CJK SC", "Liberation Sans", "DejaVu Sans", sans-serif' fill="#000" text-anchor="end" stroke="#fff" stroke-width="0.08" >0</text>
<rect x="220.3" y="1224.1" width="66.2" height="211.4" fill="#000" />
<rect x="341.7" y="1221.2" width="66.3" height="214.3" fill="#a0a0a0" />
<line x1="181.7" y1="1435.5" x2="436.7" y2="1435.5" stroke="#000" stroke-width="4" stroke-linecap="butt" />
<line x1="253.3" y1="1208.3" x2="253.3" y2="1226.0" stroke="#000" stroke-width="6.1" stroke-linecap="butt" />
<line x1="238.3" y1="1208.3" x2="268.3" y2="1208.3" stroke="#000" stroke-width="4.6" stroke-linecap="butt" />
<line x1="374.5" y1="1207.4" x2="374.5" y2="1223.3" stroke="#000" stroke-width="6.4" stroke-linecap="butt" />
<line x1="359.5" y1="1207.4" x2="389.5" y2="1207.4" stroke="#000" stroke-width="4.6" stroke-linecap="butt" />
<line x1="249.4" y1="1194.2" x2="381.1" y2="1194.2" stroke="#000" stroke-width="3.3" stroke-linecap="butt" />
<text x="294.5" y="1185.2" font-size="25.6" font-family='"Liberation Serif", "DejaVu Serif", serif' fill="#000" text-anchor="middle" stroke="#000" stroke-width="0.31" >ns</text>
<line x1="253.1" y1="1435.5" x2="253.1" y2="1444.8" stroke="#000" stroke-width="4" stroke-linecap="butt" />
<line x1="374.7" y1="1435.5" x2="374.7" y2="1444.8" stroke="#000" stroke-width="4" stroke-linecap="butt" />
<text x="260.0" y="1459.2" font-size="24.7" font-family='"Liberation Serif", "DejaVu Serif", serif' fill="#000" text-anchor="end" textLength="97.5" lengthAdjust="spacingAndGlyphs" transform="rotate(-45 260.0 1459.2)" stroke="#000" stroke-width="0.30" >Untreated</text>
<text x="381.0" y="1460.3" font-size="24.7" font-family='"Liberation Serif", "DejaVu Serif", serif' fill="#000" text-anchor="end" textLength="94.3" lengthAdjust="spacingAndGlyphs" transform="rotate(-45 381.0 1460.3)" stroke="#000" stroke-width="0.30" >Env-VLP</text>
<text x="101.7" y="1088.0" font-size="25" font-family='"Liberation Serif", "DejaVu Serif", serif' fill="#000" textLength="353.3" lengthAdjust="spacingAndGlyphs" stroke="#000" stroke-width="0.30" xml:space="preserve">Infected  PBMC (PHA Stimulated)</text>
<g transform="translate(115.4 1501.3) rotate(-90)" font-size="33" font-family='"Liberation Serif", "DejaVu Serif", serif' fill="#000" stroke="#000" stroke-width="0.5">
<text x="0.0" y="0" textLength="57.0" lengthAdjust="spacingAndGlyphs">HIV</text>
<text x="66.6" y="0" textLength="158.8" lengthAdjust="spacingAndGlyphs">comparative</text>
<text x="235.5" y="0" textLength="164.3" lengthAdjust="spacingAndGlyphs">transcription</text>
</g>
<line x1="672.6" y1="1110.7" x2="672.6" y2="1433.3" stroke="#000" stroke-width="4" stroke-linecap="butt" />
<line x1="661.7" y1="1431.3" x2="912.7" y2="1431.3" stroke="#000" stroke-width="4" stroke-linecap="butt" />
<line x1="661.3" y1="1112.9" x2="672.6" y2="1112.9" stroke="#000" stroke-width="4" stroke-linecap="butt" />
<text x="659.7" y="1127.4" font-size="23" font-family='"Noto Sans CJK SC", "Liberation Sans", "DejaVu Sans", sans-serif' fill="#000" text-anchor="end" stroke="#fff" stroke-width="0.08" >1.5</text>
<line x1="661.3" y1="1219.3" x2="672.6" y2="1219.3" stroke="#000" stroke-width="3.4" stroke-linecap="butt" />
<text x="664.4" y="1229.5" font-size="23" font-family='"Noto Sans CJK SC", "Liberation Sans", "DejaVu Sans", sans-serif' fill="#000" text-anchor="end" stroke="#fff" stroke-width="0.08" >1</text>
<line x1="661.3" y1="1325.2" x2="672.6" y2="1325.2" stroke="#000" stroke-width="3.4" stroke-linecap="butt" />
<text x="657.8" y="1335.2" font-size="23" font-family='"Noto Sans CJK SC", "Liberation Sans", "DejaVu Sans", sans-serif' fill="#000" text-anchor="end" stroke="#fff" stroke-width="0.08" >0.5</text>
<line x1="661.3" y1="1431.3" x2="672.6" y2="1431.3" stroke="#000" stroke-width="4" stroke-linecap="butt" />
<text x="652.2" y="1438.3" font-size="23" font-family='"Noto Sans CJK SC", "Liberation Sans", "DejaVu Sans", sans-serif' fill="#000" text-anchor="end" stroke="#fff" stroke-width="0.08" >0</text>
<line x1="641.5" y1="1431.3" x2="647.4" y2="1431.3" stroke="#222" stroke-width="1.3" stroke-linecap="butt" />
<rect x="699.0" y="1219.0" width="65.5" height="212.3" fill="#000" />
<rect x="818.0" y="1189.0" width="66.0" height="242.3" fill="#a0a0a0" />
<line x1="661.7" y1="1431.3" x2="912.7" y2="1431.3" stroke="#000" stroke-width="4" stroke-linecap="butt" />
<line x1="731.7" y1="1182.0" x2="731.7" y2="1221.0" stroke="#000" stroke-width="6.2" stroke-linecap="butt" />
<line x1="716.7" y1="1182.0" x2="746.7" y2="1182.0" stroke="#000" stroke-width="4.6" stroke-linecap="butt" />
<line x1="851.0" y1="1181.0" x2="851.0" y2="1191.0" stroke="#000" stroke-width="6.2" stroke-linecap="butt" />
<line x1="836.2" y1="1181.0" x2="865.8" y2="1181.0" stroke="#000" stroke-width="4.6" stroke-linecap="butt" />
<line x1="731.0" y1="1165.0" x2="854.0" y2="1165.0" stroke="#000" stroke-width="3.3" stroke-linecap="butt" />
<text x="782.5" y="1155.0" font-size="25.6" font-family='"Liberation Serif", "DejaVu Serif", serif' fill="#000" text-anchor="middle" stroke="#000" stroke-width="0.31" >ns</text>
<line x1="732.0" y1="1431.3" x2="732.0" y2="1440.0" stroke="#000" stroke-width="4" stroke-linecap="butt" />
<line x1="852.0" y1="1431.3" x2="852.0" y2="1440.0" stroke="#000" stroke-width="4" stroke-linecap="butt" />
<text x="729.0" y="1456.4" font-size="24.7" font-family='"Liberation Serif", "DejaVu Serif", serif' fill="#000" text-anchor="end" textLength="97.5" lengthAdjust="spacingAndGlyphs" transform="rotate(-45 729.0 1456.4)" stroke="#000" stroke-width="0.30" >Untreated</text>
<text x="865.0" y="1459.5" font-size="24.7" font-family='"Liberation Serif", "DejaVu Serif", serif' fill="#000" text-anchor="end" textLength="94.3" lengthAdjust="spacingAndGlyphs" transform="rotate(-45 865.0 1459.5)" stroke="#000" stroke-width="0.30" >Env-VLP</text>
<text x="622.3" y="1086.0" font-size="25" font-family='"Liberation Serif", "DejaVu Serif", serif' fill="#000" textLength="357.7" lengthAdjust="spacingAndGlyphs" stroke="#000" stroke-width="0.30" xml:space="preserve">Infected  PBMC (Anti  CD3/CD28)</text>
<line x1="563.0" y1="1431.7" x2="568.0" y2="1431.7" stroke="#333" stroke-width="1.5" stroke-linecap="butt" />
<line x1="1261.2" y1="1119.1" x2="1261.2" y2="1459.6" stroke="#000" stroke-width="3.5" stroke-linecap="butt" />
<line x1="1251.8" y1="1458.2" x2="1768.4" y2="1458.2" stroke="#000" stroke-width="2.8" stroke-linecap="butt" />
<line x1="1251.8" y1="1120.6" x2="1261.2" y2="1120.6" stroke="#000" stroke-width="3" stroke-linecap="butt" />
<line x1="1251.8" y1="1188.1" x2="1261.2" y2="1188.1" stroke="#000" stroke-width="3" stroke-linecap="butt" />
<line x1="1251.8" y1="1256.1" x2="1261.2" y2="1256.1" stroke="#000" stroke-width="3" stroke-linecap="butt" />
<line x1="1251.8" y1="1391.1" x2="1261.2" y2="1391.1" stroke="#000" stroke-width="3" stroke-linecap="butt" />
<text x="1237.6" y="1107.3" font-size="22.8" font-family='"Noto Sans CJK SC", "Liberation Sans", "DejaVu Sans", sans-serif' fill="#000" text-anchor="end" stroke="#fff" stroke-width="0.08" >2.5</text>
<text x="1237.6" y="1181.2" font-size="22.8" font-family='"Noto Sans CJK SC", "Liberation Sans", "DejaVu Sans", sans-serif' fill="#000" text-anchor="end" stroke="#fff" stroke-width="0.08" >2</text>
<text x="1236.9" y="1249.2" font-size="22.8" font-family='"Noto Sans CJK SC", "Liberation Sans", "DejaVu Sans", sans-serif' fill="#000" text-anchor="end" stroke="#fff" stroke-width="0.08" >1.5</text>
<text x="1230.1" y="1304.8" font-size="22.8" font-family='"Noto Sans CJK SC", "Liberation Sans", "DejaVu Sans", sans-serif' fill="#000" text-anchor="end" stroke="#fff" stroke-width="0.08" >1</text>
<text x="1228.4" y="1384.3" font-size="22.8" font-family='"Noto Sans CJK SC", "Liberation Sans", "DejaVu Sans", sans-serif' fill="#000" text-anchor="end" stroke="#fff" stroke-width="0.08" >0.5</text>
<text x="1228.4" y="1444.9" font-size="22.8" font-family='"Noto Sans CJK SC", "Liberation Sans", "DejaVu Sans", sans-serif' fill="#000" text-anchor="end" stroke="#fff" stroke-width="0.08" >0</text>
<line x1="1345.4" y1="1458.2" x2="1345.4" y2="1468.2" stroke="#000" stroke-width="3" stroke-linecap="butt" />
<line x1="1513.5" y1="1458.2" x2="1513.5" y2="1468.2" stroke="#000" stroke-width="3" stroke-linecap="butt" />
<line x1="1682.2" y1="1458.2" x2="1682.2" y2="1468.2" stroke="#000" stroke-width="3" stroke-linecap="butt" />
<circle cx="1276.4" cy="1458.2" r="6.9" fill="#000" />
<rect x="1289.0" y="1450.7" width="14" height="14.4" fill="#000" />
<polygon points="1316.2,1450.6 1323.7,1465.1 1308.7,1465.1" fill="#000" />
<polygon points="1334.7,1465.4 1342.1,1450.7 1327.3,1450.7" fill="#000" />
<polygon points="1354.6,1450.7 1361.4,1458.0 1354.6,1465.3 1347.8,1458.0" fill="#000" />
<circle cx="1374.1" cy="1458.2" r="6" fill="none" stroke="#a6a6a6" stroke-width="4.3"/>
<path d="M1394.5,1449.8 L1405.6,1466.6 H1383.4 Z M1394.5,1460 L1391.3,1462.6 H1397.7 Z" fill="#000" fill-rule="evenodd"/>
<rect x="1407.4" y="1451.3" width="12.8" height="13.4" fill="none" stroke="#707070" stroke-width="3.9"/>
<circle cx="1614.0" cy="1452.0" r="7" fill="#000" />
<line x1="1633.9" y1="1410.5" x2="1633.9" y2="1438.0" stroke="#000" stroke-width="6.5" stroke-linecap="butt" />
<rect x="1626.3" y="1417.1" width="15.2" height="14.6" fill="#000" />
<line x1="1653.7" y1="1286.0" x2="1653.7" y2="1327.6" stroke="#000" stroke-width="6" stroke-linecap="butt" />
<polygon points="1653.2,1303.5 1660.4,1316.8 1646.0,1316.8" fill="#000" />
<line x1="1673.0" y1="1141.0" x2="1673.0" y2="1227.7" stroke="#000" stroke-width="4.7" stroke-linecap="butt" />
<line x1="1669.5" y1="1143.3" x2="1676.5" y2="1143.3" stroke="#000" stroke-width="4.6" stroke-linecap="butt" />
<line x1="1669.5" y1="1225.4" x2="1676.5" y2="1225.4" stroke="#000" stroke-width="4.6" stroke-linecap="butt" />
<polygon points="1672.8,1186.5 1680.0,1176.0 1665.5,1176.0" fill="#000" />
<polygon points="1692.2,1444.6 1700.0,1451.7 1692.2,1458.8 1684.4,1451.7" fill="#000" />
<circle cx="1711.3" cy="1216.4" r="6.6" fill="none" stroke="#a8a8a8" stroke-width="4.2"/>
<line x1="1705.4" y1="1216.6" x2="1717.2" y2="1216.6" stroke="#000" stroke-width="4.2" stroke-linecap="butt" />
<line x1="1711.3" y1="1210.6" x2="1711.3" y2="1222.6" stroke="#000" stroke-width="4.2" stroke-linecap="butt" />
<line x1="1731.3" y1="1399.2" x2="1731.3" y2="1434.5" stroke="#000" stroke-width="6" stroke-linecap="butt" />
<polygon points="1730.7,1404.0 1741.2,1428.1 1720.2,1428.1" fill="#000" />
<rect x="1743.2" y="1448.9" width="13.8" height="14.8" fill="none" stroke="#707070" stroke-width="4"/>
<line x1="1745.4" y1="1456.8" x2="1755.4" y2="1456.8" stroke="#000" stroke-width="4.5" stroke-linecap="butt" />
<line x1="1746.8" y1="1453.8" x2="1754.0" y2="1453.8" stroke="#fff" stroke-width="1.6" stroke-linecap="butt" />
<text x="1304.0" y="1501.0" font-size="24.8" font-family='"Liberation Serif", "DejaVu Serif", serif' fill="#000" textLength="97.7" lengthAdjust="spacingAndGlyphs" stroke="#000" stroke-width="0.30" >Untreated</text>
<text x="1640.0" y="1504.6" font-size="24.8" font-family='"Liberation Serif", "DejaVu Serif", serif' fill="#000" textLength="95.5" lengthAdjust="spacingAndGlyphs" stroke="#000" stroke-width="0.30" >Env-VLP</text>
<g transform="translate(1180.6 1464.9) rotate(-90)" font-size="33" font-family='"Liberation Serif", "DejaVu Serif", serif' fill="#000" stroke="#000" stroke-width="0.5">
<text x="0.0" y="0" textLength="57.0" lengthAdjust="spacingAndGlyphs">HIV</text>
<text x="66.6" y="0" textLength="158.8" lengthAdjust="spacingAndGlyphs">comparative</text>
<text x="235.5" y="0" textLength="164.3" lengthAdjust="spacingAndGlyphs">transcription</text>
</g>
<circle cx="1819.3" cy="1142.7" r="7.2" fill="#000" />
<text x="1843.7" y="1144.8" font-size="22" font-family='"Noto Sans CJK SC", "Liberation Sans", "DejaVu Sans", sans-serif' fill="#000" textLength="93.5" lengthAdjust="spacingAndGlyphs" stroke="#fff" stroke-width="0.08" >Patient A</text>
<rect x="1811.9" y="1173.6" width="14.8" height="14.8" fill="#000" />
<text x="1843.7" y="1185.5" font-size="22" font-family='"Noto Sans CJK SC", "Liberation Sans", "DejaVu Sans", sans-serif' fill="#000" textLength="92.3" lengthAdjust="spacingAndGlyphs" stroke="#fff" stroke-width="0.08" >Patient B</text>
<polygon points="1819.3,1214.1 1826.8,1227.6 1811.8,1227.6" fill="#000" />
<text x="1841.7" y="1230.9" font-size="22" font-family='"Noto Sans CJK SC", "Liberation Sans", "DejaVu Sans", sans-serif' fill="#000" textLength="93.0" lengthAdjust="spacingAndGlyphs" stroke="#fff" stroke-width="0.08" >Patient C</text>
<polygon points="1819.3,1265.4 1826.8,1251.9 1811.8,1251.9" fill="#000" />
<text x="1841.7" y="1260.7" font-size="22" font-family='"Noto Sans CJK SC", "Liberation Sans", "DejaVu Sans", sans-serif' fill="#000" textLength="94.3" lengthAdjust="spacingAndGlyphs" stroke="#fff" stroke-width="0.08" >Patient D</text>
<polygon points="1819.3,1289.8 1827.0,1297.6 1819.3,1305.3 1811.5,1297.6" fill="#000" />
<text x="1844.8" y="1299.6" font-size="22" font-family='"Noto Sans CJK SC", "Liberation Sans", "DejaVu Sans", sans-serif' fill="#000" textLength="90.6" lengthAdjust="spacingAndGlyphs" stroke="#fff" stroke-width="0.08" >Patient E</text>
<circle cx="1819.3" cy="1337.0" r="6.9" fill="none" stroke="#a6a6a6" stroke-width="5"/>
<text x="1843.7" y="1341.7" font-size="22" font-family='"Noto Sans CJK SC", "Liberation Sans", "DejaVu Sans", sans-serif' fill="#000" textLength="90.3" lengthAdjust="spacingAndGlyphs" stroke="#fff" stroke-width="0.08" >Patient F</text>
<path d="M1819.3,1367.5 L1829.8999999999999,1386.2 H1808.7 Z M1819.3,1375.8 L1822.7,1381.6 H1815.8999999999999 Z" fill="#000" fill-rule="evenodd"/>
<text x="1847.6" y="1380.4" font-size="22" font-family='"Noto Sans CJK SC", "Liberation Sans", "DejaVu Sans", sans-serif' fill="#000" textLength="94.0" lengthAdjust="spacingAndGlyphs" stroke="#fff" stroke-width="0.08" >Patient G</text>
<rect x="1812.1" y="1408.1" width="14.4" height="14.4" fill="none" stroke="#707070" stroke-width="4.8"/>
<text x="1848.8" y="1421.1" font-size="22" font-family='"Noto Sans CJK SC", "Liberation Sans", "DejaVu Sans", sans-serif' fill="#000" textLength="147.0" lengthAdjust="spacingAndGlyphs" stroke="#fff" stroke-width="0.08" >Healthy PBMC</text>
</svg>
</body></html>
